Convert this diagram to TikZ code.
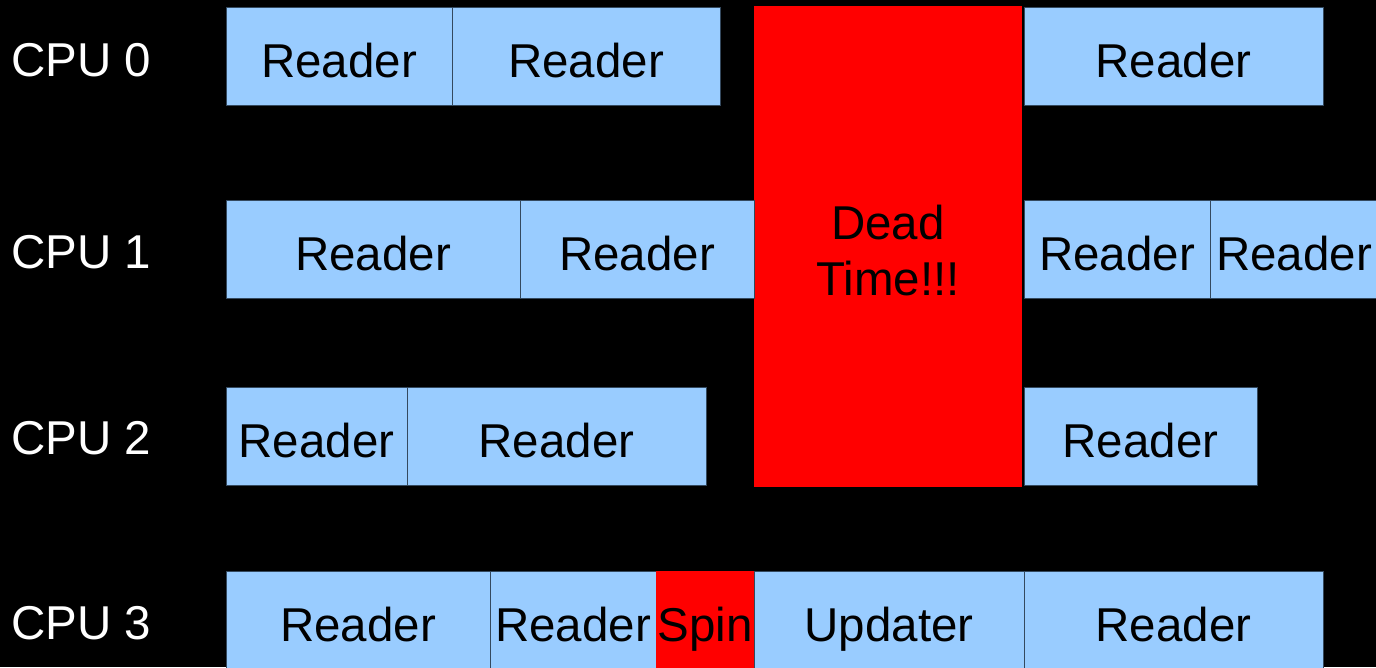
\documentclass[tikz,border=0pt]{standalone}
\usepackage{fontspec}
\setmainfont{Liberation Sans}
\usetikzlibrary{positioning}

\definecolor{readerblue}{HTML}{99CCFF}
\definecolor{edgegray}{HTML}{34495E}

\tikzset{
	slot/.style={anchor=north west, inner sep=0pt, outer sep=0pt, minimum height=98pt,
		text height=42pt, text depth=0pt, font=\fontsize{47.5}{56}\selectfont, text=black},
	reader/.style={slot, fill=readerblue, draw=edgegray, line width=1pt},
	stall/.style={slot, fill=red},
	cpulabel/.style={anchor=west, inner sep=0pt, font=\fontsize{47.5}{56}\selectfont, text=white}
}

% \task{name}{left}{right}{top}{style}{text}
\newcommand{\task}[6]{%
	\pgfmathsetmacro{\taskw}{#3-#2}
	\node[#5, minimum width=\taskw pt] (#1) at (#2,#4) {#6};
}

\begin{document}
\begin{tikzpicture}[x=1pt, y=-1pt]

	\useasboundingbox[fill=black] (0,0) rectangle (1376,667);

	\node[cpulabel] (cpu0) at (11,60) {CPU 0};
	\node[cpulabel] (cpu1) at (11,252) {CPU 1};
	\node[cpulabel] (cpu2) at (11,438) {CPU 2};
	\node[cpulabel] (cpu3) at (11,623) {CPU 3};

	% dead time spans all readers
	\node[stall, minimum width=268pt, minimum height=481pt, text height=98pt, align=center] (dead) at (754,6) {Dead\\Time!!!};

	\task{r00}{226}{452}{7}{reader}{Reader}
	\task{r01}{452}{720}{7}{reader}{Reader}
	\task{r02}{1024}{1323}{7}{reader}{Reader}

	\task{r10}{226}{520}{200}{reader}{Reader}
	\task{r11}{520}{754}{200}{reader}{Reader}
	\task{r12}{1024}{1210}{200}{reader}{Reader}
	\task{r13}{1210}{1378}{200}{reader}{Reader}

	\task{r20}{226}{407}{387}{reader}{Reader}
	\task{r21}{407}{706}{387}{reader}{Reader}
	\task{r22}{1024}{1257}{387}{reader}{Reader}

	\task{r30}{226}{490}{571}{reader}{Reader}
	\task{r31}{490}{656}{571}{reader}{Reader}
	\task{spin}{656}{754}{571}{stall}{Spin}
	\task{upd}{754}{1024}{571}{reader}{Updater}
	\task{r32}{1024}{1323}{571}{reader}{Reader}

\end{tikzpicture}
\end{document}
